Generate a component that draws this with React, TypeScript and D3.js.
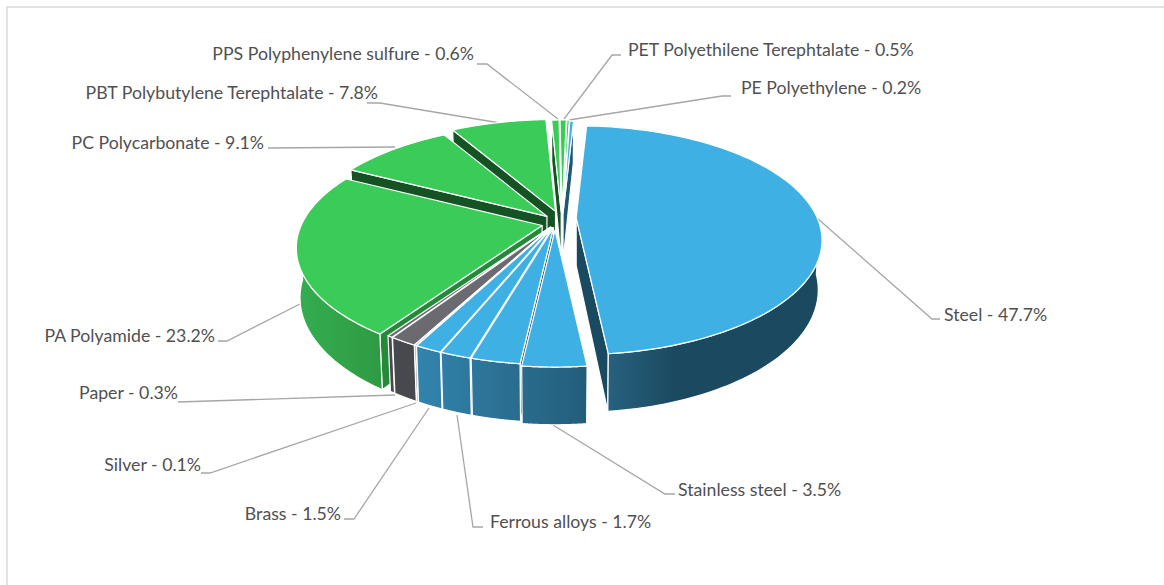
import * as d3 from 'd3';

const SLICE_NAMES = [
  'Steel', 'Stainless steel', 'Other metals', 'Ferrous alloys', 'Brass', 'Silver', 'Other', 'Paper',
  'PA Polyamide', 'PC Polycarbonate', 'PBT Polybutylene Terephtalate', 'PPS Polyphenylene sulfure',
  'PET Polyethilene Terephtalate', 'PE Polyethylene', 'Other trace',
];
// share of the circle as drawn; the unlabelled pieces are estimated from their width
const SLICE_VALUES = [47.7, 3.5, 2.7, 1.7, 1.5, 0.1, 1.5, 0.3, 23.2, 9.1, 7.6, 0.6, 0.5, 0.2, 0.3];
const SLICE_GROUPS = ['steel', 'blue', 'blue', 'blue', 'blue', 'grey', 'grey', 'grey', 'pa', 'green', 'green', 'green', 'green', 'green', 'blue'];
const SLICE_PULL = [0.092, 0.055, 0.035, 0.035, 0.035, 0.035, 0.035, 0.035, 0.055, 0.075, 0.11, 0.11, 0.11, 0.11, 0.1];
// extra screen shift of a few pieces, on top of the pull
const NUDGE_X = [-1, 0, 0, 0, 0, 0, 0, 0, 0, 5, 8, 7, 7, 7, 7];
const NUDGE_Y = [-6, 0, 0, 0, 0, 0, 0, 0, 0, -2, -1, 0, 0, 0, 0];

const LABELS = [
  'PPS Polyphenylene sulfure - 0.6%', 'PBT Polybutylene Terephtalate - 7.8%', 'PC Polycarbonate - 9.1%',
  'PA Polyamide - 23.2%', 'Paper - 0.3%', 'Silver - 0.1%', 'Brass - 1.5%', 'Ferrous alloys - 1.7%',
  'Stainless steel - 3.5%', 'Steel - 47.7%', 'PET Polyethilene Terephtalate - 0.5%', 'PE Polyethylene - 0.2%',
];
const LABEL_X = [474, 378, 264, 215, 178, 201, 341, 490, 678, 944, 628, 741];
const LABEL_Y = [53, 92, 142, 335, 392, 464, 513, 521, 489, 314, 49, 87];
const LABEL_ANCHOR = ['end', 'end', 'end', 'end', 'end', 'end', 'end', 'start', 'start', 'start', 'start', 'start'];
const LEADERS: [number, number][][] = [
  [[477, 64], [487, 64], [558, 119]],
  [[367, 103], [380, 103], [500, 123]],
  [[268, 148], [395, 147]],
  [[218, 341], [227, 341], [302, 303]],
  [[178, 402], [395, 395]],
  [[201, 473], [210, 473], [416, 403]],
  [[344, 519], [354, 519], [429, 408]],
  [[483, 527], [473, 527], [457, 415]],
  [[553, 425], [665, 494], [675, 494]],
  [[817, 218], [932, 319], [940, 319]],
  [[621, 55], [612, 55], [564, 119]],
  [[731, 96], [722, 96], [569, 120]],
];

const TOP_FILL: Record<string, string> = { steel: '#3eb0e4', blue: '#3eb0e4', grey: '#6a6a70', pa: '#3bcb59', green: '#3bcb59' };
const WALL_FILL: Record<string, string> = { steel: 'url(#wallSteel)', blue: 'url(#wallBlue)', grey: '#48494e', pa: 'url(#wallGreen)', green: '#2e9a42' };
const CUT_FILL: Record<string, string> = { steel: '#1a4a60', blue: '#1f5873', grey: '#48494e', pa: '#25893a', green: '#155224' };

const CX = 555;
const CY = 224;
const RX = 241;
const RY = 110;
const PERSP = 0.197;
const DEPTH = 48;
const INSET = 0.985;

type Pt = [number, number];

export default function App() {
  const arcs = d3.pie<number>().sort(null).startAngle(0.052).endAngle(0.052 + 2 * Math.PI)(SLICE_VALUES);
  const path = d3.line<Pt>().curve(d3.curveLinearClosed);

  const slices = arcs.map((a, i) => {
    const t0 = a.startAngle - Math.PI / 2;
    const t1 = a.endAngle - Math.PI / 2;
    const mid = (t0 + t1) / 2;
    const ox = CX + RX * SLICE_PULL[i] * Math.cos(mid) + NUDGE_X[i];
    const oy = CY + RY * SLICE_PULL[i] * Math.sin(mid) + NUDGE_Y[i];
    const top = (t: number): Pt => {
      const w = 1 / (1 - PERSP * Math.sin(t));
      return [ox + RX * Math.cos(t) * w, oy + RY * Math.sin(t) * w];
    };
    const low = (t: number): Pt => {
      const w = 1 / (1 - PERSP * Math.sin(t));
      return [ox + RX * Math.cos(t) * w * INSET, oy + RY * Math.sin(t) * w * INSET + DEPTH * w];
    };
    const angles = d3.range(121).map(k => t0 + ((t1 - t0) * k) / 120);
    // the outer wall only shows on the side turned to the viewer
    const front = angles.filter(t => Math.sin(t) > 0.05);
    const apex: Pt = [ox, oy];
    const apexLow: Pt = [ox, oy + DEPTH];
    return {
      i,
      mid,
      group: SLICE_GROUPS[i],
      top: path([apex, ...angles.map(top)]) ?? '',
      wall: front.length > 1 ? path([...front.map(top), ...front.slice().reverse().map(low)]) ?? '' : '',
      cutA: Math.cos(t0) < 0 ? path([apex, top(t0), low(t0), apexLow]) ?? '' : '',
      cutB: Math.cos(t1) > 0 ? path([apex, top(t1), low(t1), apexLow]) ?? '' : '',
    };
  });
  // far slices first, so nearer ones paint over them
  const order = slices.slice().sort((a, b) => Math.sin(a.mid) - Math.sin(b.mid));

  return (
    <svg width={1164} height={585} style={{ position: 'absolute', left: 0, top: 0, background: '#fff' }}>
      <defs>
        <linearGradient id="wallSteel" gradientUnits="userSpaceOnUse" x1={605} x2={675} y1={0} y2={0}>
          <stop offset="0" stopColor="#27627f" />
          <stop offset="1" stopColor="#1b4a60" />
        </linearGradient>
        <linearGradient id="wallBlue" gradientUnits="userSpaceOnUse" x1={413} x2={585} y1={0} y2={0}>
          <stop offset="0" stopColor="#3285ae" />
          <stop offset="1" stopColor="#245d7b" />
        </linearGradient>
        <linearGradient id="wallGreen" gradientUnits="userSpaceOnUse" x1={298} x2={385} y1={0} y2={0}>
          <stop offset="0" stopColor="#34ad50" />
          <stop offset="1" stopColor="#2e9a42" />
        </linearGradient>
      </defs>

      <rect x={7} y={7} width={1300} height={700} fill="none" stroke="#d9d9d9" strokeWidth={1.5} />

      {/* Leader lines */}
      {LEADERS.map((pts, i) => (
        <polyline key={i} points={pts.join(' ')} fill="none" stroke="#a6a6a6" strokeWidth={1.3} />
      ))}

      {/* Pie */}
      {order.map(s => (
        <g key={s.i} stroke="#fff" strokeWidth={1.2} strokeLinejoin="round">
          {s.cutA && <path d={s.cutA} fill={CUT_FILL[s.group]} />}
          {s.cutB && <path d={s.cutB} fill={CUT_FILL[s.group]} />}
          {s.wall && <path d={s.wall} fill={WALL_FILL[s.group]} />}
          <path d={s.top} fill={TOP_FILL[s.group]} />
        </g>
      ))}

      {/* Labels */}
      {LABELS.map((t, i) => (
        <text key={t} x={LABEL_X[i]} y={LABEL_Y[i]} textAnchor={LABEL_ANCHOR[i]} dominantBaseline="central"
          fontFamily="Lato" fontSize={17.7} fill="#505050">
          {t}
        </text>
      ))}
    </svg>
  );
}
